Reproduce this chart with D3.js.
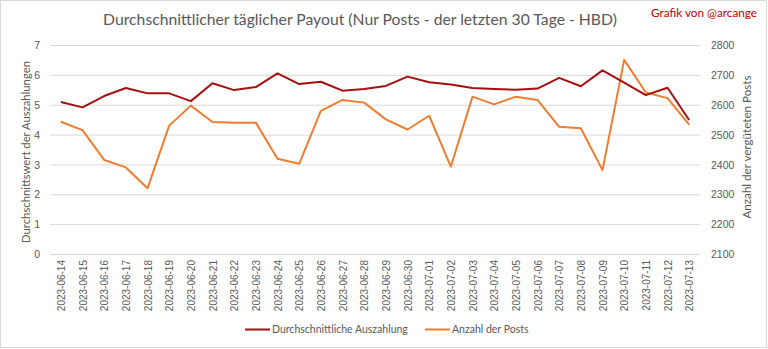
<!DOCTYPE html>
<html><head><meta charset="utf-8">
<script src="https://cdn.jsdelivr.net/npm/d3@7"></script>
<style>body{margin:0;background:#fff;}svg{display:block;font-family:Lato,"Open Sans",sans-serif;}</style>
</head><body>
<svg id="c" width="768" height="349"></svg>
<script>
const dates = ["2023-06-14","2023-06-15","2023-06-16","2023-06-17","2023-06-18","2023-06-19","2023-06-20","2023-06-21","2023-06-22","2023-06-23","2023-06-24","2023-06-25","2023-06-26","2023-06-27","2023-06-28","2023-06-29","2023-06-30","2023-07-01","2023-07-02","2023-07-03","2023-07-04","2023-07-05","2023-07-06","2023-07-07","2023-07-08","2023-07-09","2023-07-10","2023-07-11","2023-07-12","2023-07-13"];
const avgPayout = [5.09,4.91,5.29,5.56,5.38,5.38,5.12,5.72,5.49,5.59,6.05,5.69,5.77,5.47,5.53,5.63,5.94,5.75,5.68,5.56,5.53,5.50,5.54,5.90,5.62,6.15,5.74,5.32,5.57,4.49];
const postCount = [2543,2515,2415,2390,2320,2530,2597,2542,2540,2540,2419,2402,2579,2616,2607,2551,2517,2563,2393,2627,2601,2627,2616,2526,2521,2381,2750,2641,2622,2533];
const leftTicks = [0,1,2,3,4,5,6,7];
const rightTicks = [2100,2200,2300,2400,2500,2600,2700,2800];
const titleText = "Durchschnittlicher täglicher Payout (Nur Posts - der letzten 30 Tage - HBD)";
const creditText = "Grafik von @arcange";
const leftTitle = "Durchschnittswert der Auszahlungen";
const rightTitle = "Anzahl der vergüteten  Posts";
const seriesNames = ["Durchschnittliche Auszahlung","Anzahl der Posts"];
const colors = ["#a50f0f","#ed7d31"];

const svg = d3.select("#c");
const W=768,H=349;
const m = {l:50,r:700,t:45,b:254};
svg.append("rect").attr("x",0.5).attr("y",0.5).attr("width",W-2).attr("height",H-2).attr("fill","#fff").attr("stroke","#d9d9d9");

const x = d3.scalePoint().domain(dates).range([m.l,m.r]).padding(0.5);
const yL = d3.scaleLinear().domain([0,7]).range([m.b,m.t]);
const yR = d3.scaleLinear().domain([2100,2800]).range([m.b,m.t]);

svg.append("g").selectAll("line").data(leftTicks).join("line")
  .attr("x1",m.l).attr("x2",m.r).attr("y1",d=>yL(d)+0.5).attr("y2",d=>yL(d)+0.5)
  .attr("stroke","#d9d9d9").attr("stroke-width",1);

const gl = svg.append("g").attr("transform",`translate(${m.l-10},0)`)
  .call(d3.axisLeft(yL).tickValues(leftTicks).tickSize(0).tickPadding(0).tickFormat(d3.format("d")));
gl.select(".domain").remove();
gl.selectAll("text").attr("fill","#595959").attr("font-size","10.5px").attr("dy","0.35em");

const gr = svg.append("g").attr("transform",`translate(${m.r+11},0)`)
  .call(d3.axisRight(yR).tickValues(rightTicks).tickSize(0).tickPadding(0).tickFormat(d3.format("d")));
gr.select(".domain").remove();
gr.selectAll("text").attr("fill","#595959").attr("font-size","10.5px").attr("dy","0.35em");

const gx = svg.append("g").attr("transform",`translate(0,${m.b})`)
  .call(d3.axisBottom(x).tickSize(0).tickPadding(0));
gx.select(".domain").remove();
gx.selectAll("text").attr("fill","#595959").attr("font-size","10px")
  .attr("transform","rotate(-90)").attr("text-anchor","end").attr("x",-6).attr("y",0).attr("dy","0.35em");

const lineL = d3.line().x((d,i)=>x(dates[i])).y(d=>yL(d));
const lineR = d3.line().x((d,i)=>x(dates[i])).y(d=>yR(d));
svg.append("path").datum(postCount).attr("d",lineR).attr("fill","none").attr("stroke",colors[1]).attr("stroke-width",2).attr("stroke-linejoin","round");
svg.append("path").datum(avgPayout).attr("d",lineL).attr("fill","none").attr("stroke",colors[0]).attr("stroke-width",2).attr("stroke-linejoin","round");

function fitText(sel,w){const n=sel.node();const l=n.getComputedTextLength();const fs=parseFloat(sel.attr("font-size"));sel.attr("font-size",(fs*w/l).toFixed(2)+"px");}
const t = svg.append("text").attr("x",360).attr("y",25).attr("text-anchor","middle").attr("fill","#595959").attr("font-size","16px").text(titleText);
fitText(t,514);
const cr = svg.append("text").attr("x",757).attr("y",17).attr("text-anchor","end").attr("fill","#c00000").attr("font-size","11px").text(creditText);
fitText(cr,106);

const lt = svg.append("text").attr("transform","translate(30,152) rotate(-90)").attr("text-anchor","middle").attr("fill","#595959").attr("font-size","11px").text(leftTitle);
fitText(lt,182);
const rt = svg.append("text").attr("transform","translate(751,147) rotate(-90)").attr("text-anchor","middle").attr("fill","#595959").attr("font-size","11px").text(rightTitle);
fitText(rt,143);

const leg = [{x:245,name:seriesNames[0],c:colors[0]},{x:425,name:seriesNames[1],c:colors[1]}];
leg.forEach(d=>{
  svg.append("line").attr("x1",d.x).attr("x2",d.x+25).attr("y1",329.5).attr("y2",329.5).attr("stroke",d.c).attr("stroke-width",2);
  svg.append("text").attr("x",d.x+27).attr("y",333).attr("fill","#595959").attr("font-size","10.5px").text(d.name);
});
</script>
</body></html>
